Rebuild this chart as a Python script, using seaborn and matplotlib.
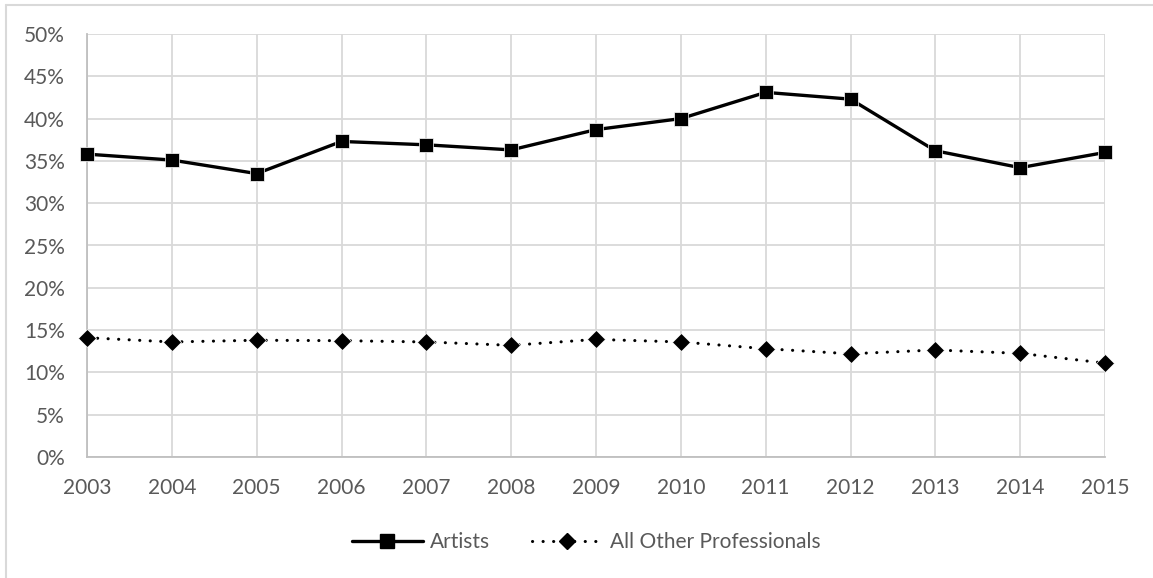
import matplotlib
matplotlib.use("Agg")
import matplotlib.pyplot as plt
import seaborn as sns
import pandas as pd
from matplotlib.lines import Line2D
from matplotlib.ticker import FuncFormatter

years = [2003, 2004, 2005, 2006, 2007, 2008, 2009, 2010, 2011, 2012, 2013, 2014, 2015]
artists = [35.8, 35.1, 33.5, 37.3, 36.9, 36.3, 38.7, 40.0, 43.1, 42.3, 36.2, 34.2, 36.0]
others = [14.1, 13.6, 13.8, 13.75, 13.6, 13.2, 13.9, 13.6, 12.8, 12.2, 12.65, 12.25, 11.1]
series_names = ["Artists", "All Other Professionals"]
y_ticks = list(range(0, 51, 5))

df = pd.DataFrame({
    "year": years * 2,
    "value": artists + others,
    "series": [series_names[0]] * len(years) + [series_names[1]] * len(years),
})

sns.set_theme(style="white")
plt.rcParams["font.family"] = ["Lato", "DejaVu Sans"]

W, H = 1153, 578
fig = plt.figure(figsize=(W / 100, H / 100), dpi=100)
ax = fig.add_axes([87 / W, 1 - 457 / H, (1105 - 87) / W, (457 - 34) / H])

text_col = "#595959"
grid_col = "#d9d9d9"
dot_style = (0, (0.05, 3.4))

sns.lineplot(
    data=df, x="year", y="value", style="series",
    markers={series_names[0]: "s", series_names[1]: "D"},
    dashes={series_names[0]: "", series_names[1]: (0.05, 3.4)},
    color="black", ax=ax, legend=False, markersize=9,
)
lines = ax.get_lines()
for ln, lw, ms in zip(lines, [2.4, 2.2], [10, 9]):
    ln.set_linewidth(lw)
    ln.set_markersize(ms)
    ln.set_markeredgewidth(0.5)
    ln.set_dash_capstyle("round")
    ln.set_clip_on(False)
    ln.set_zorder(5)

ax.set_xlim(years[0], years[-1])
ax.set_ylim(0, 50)
ax.set_xticks(years)
ax.set_xticklabels([str(y) for y in years])
ax.set_yticks(y_ticks)
ax.yaxis.set_major_formatter(FuncFormatter(lambda v, p: f"{int(v)}%"))
ax.grid(True, color=grid_col, linewidth=1.3)
ax.set_axisbelow(True)
for s in ["top", "right"]:
    ax.spines[s].set_visible(False)
for s in ["left", "bottom"]:
    ax.spines[s].set_color("#bfbfbf")
    ax.spines[s].set_linewidth(1.3)
ax.tick_params(axis="both", length=0, colors=text_col, labelsize=15)
ax.tick_params(axis="x", pad=15)
ax.tick_params(axis="y", pad=16)
ax.set_xlabel("")
ax.set_ylabel("")

handles = [
    Line2D([], [], color="black", lw=2.4, marker="s", markersize=10),
    Line2D([], [], color="black", lw=2.2, marker="D", markersize=8,
           linestyle=dot_style, dash_capstyle="round"),
]
leg = fig.legend(handles, series_names, loc="center", ncol=2,
                 bbox_to_anchor=(586 / W, 1 - 542 / H), frameon=False,
                 fontsize=15, handlelength=3.4, handletextpad=0.35,
                 columnspacing=2.0, labelcolor=text_col)

fig.add_artist(Line2D([6 / W, 6 / W], [0, 1 - 5 / H], color=grid_col, lw=1.5,
                      transform=fig.transFigure))
fig.add_artist(Line2D([6 / W, 1], [1 - 5 / H, 1 - 5 / H], color=grid_col, lw=1.5,
                      transform=fig.transFigure))

fig.savefig("out.png", dpi=100, facecolor="white")
